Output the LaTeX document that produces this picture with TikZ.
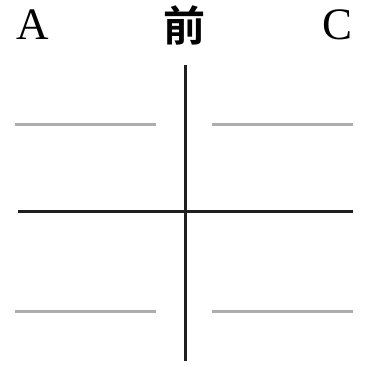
\documentclass[tikz,border=0pt]{standalone}
\usepackage{fontspec}
\setmainfont{Liberation Serif}
\newfontfamily\cjk{Noto Sans CJK SC Bold}
\begin{document}
\begin{tikzpicture}[x=1pt,y=-1pt,
  axis/.style={line width=3pt,draw=black!88},
  guide/.style={line width=3pt,draw=black!32},
  lbl/.style={inner sep=0pt,anchor=base,font=\fontsize{45}{45}\selectfont}]
\useasboundingbox (0,0) rectangle (376,366);
\node[lbl] (a) at (33,40) {A};
\node[lbl,font=\cjk\fontsize{42}{42}\selectfont] (b) at (185,42) {前};
\node[lbl] (c) at (338,40) {C};
\coordinate (vt) at (185.5,65);
\coordinate (vb) at (185.5,361);
\coordinate (hl) at (18,212);
\coordinate (hr) at (353,212);
\draw[axis] (vt) -- (vb);
\draw[axis] (hl) -- (hr);
\coordinate (g1a) at (15,125); \coordinate (g1b) at (156,125);
\coordinate (g2a) at (212,125); \coordinate (g2b) at (353,125);
\coordinate (g3a) at (15,312); \coordinate (g3b) at (156,312);
\coordinate (g4a) at (212,312); \coordinate (g4b) at (353,312);
\draw[guide] (g1a) -- (g1b);
\draw[guide] (g2a) -- (g2b);
\draw[guide] (g3a) -- (g3b);
\draw[guide] (g4a) -- (g4b);
\end{tikzpicture}
\end{document}
